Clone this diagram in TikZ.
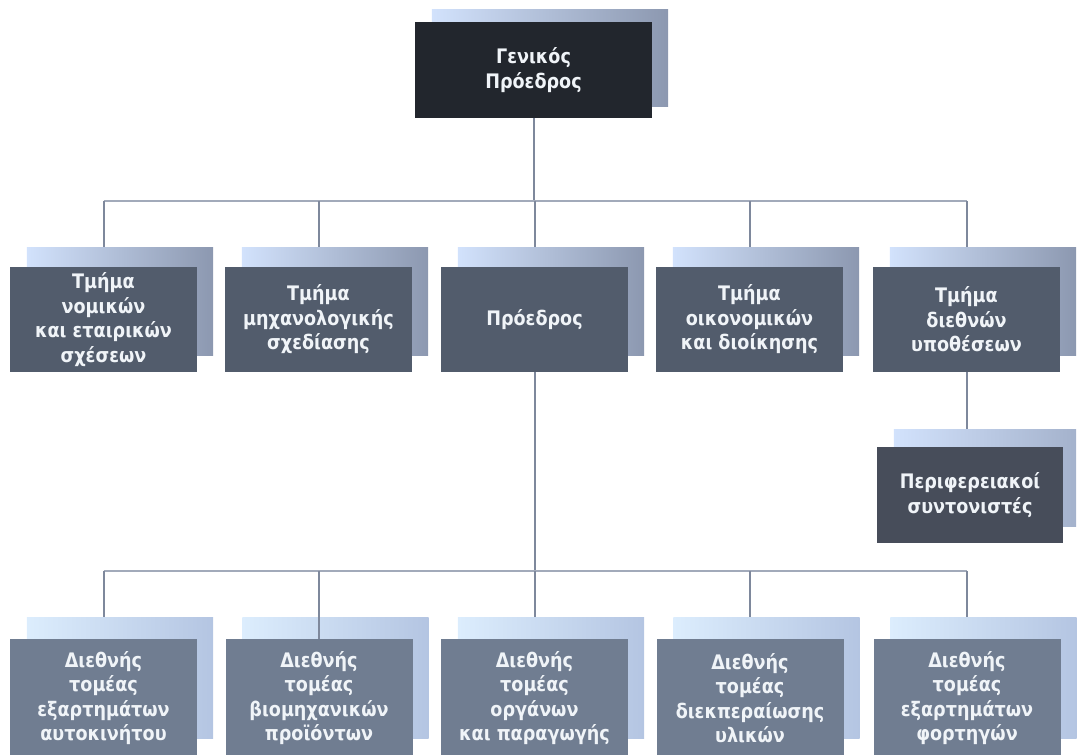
\documentclass[tikz,border=0pt]{standalone}
\usepackage{fontspec}
\setmainfont{DejaVu Sans}[FakeStretch=0.88]
\usetikzlibrary{calc}
\definecolor{topc}{HTML}{22262D}
\definecolor{rowc}{HTML}{525C6C}
\definecolor{perc}{HTML}{474D5A}
\definecolor{botc}{HTML}{707D91}
\definecolor{shL}{HTML}{D2E2FC}
\definecolor{shR}{HTML}{8C98B0}
\definecolor{shbL}{HTML}{DCEDFD}
\definecolor{shbR}{HTML}{B4C5E2}
\definecolor{shpR}{HTML}{A4B2CC}
\definecolor{hline}{HTML}{A2AABA}
\definecolor{vline}{HTML}{7E889C}
\definecolor{txt}{HTML}{F0F4F8}
\pgfdeclarelayer{lines}
\pgfdeclarelayer{shadows}
\pgfdeclarelayer{over}
\pgfsetlayers{lines,shadows,over,main}
\begin{document}
\begin{tikzpicture}[x=1pt,y=-1pt,
  box/.style={inner sep=0pt, align=center, text=txt,
    font=\bfseries\fontsize{20}{24.5}\selectfont},
  topbox/.style={box, fill=topc, minimum width=237pt, minimum height=96pt},
  rowbox/.style={box, fill=rowc, minimum width=187pt, minimum height=105pt},
  perbox/.style={box, fill=perc, minimum width=186pt, minimum height=96pt},
  botbox/.style={box, fill=botc, minimum width=187pt, minimum height=118pt},
  hl/.style={draw=hline, line width=2pt},
  vl/.style={draw=vline, line width=2pt}]
\useasboundingbox (0,0) rectangle (1077,755);
\clip (0,0) rectangle (1077,755);

\node[topbox] (top) at (533.5,70) {Γενικός\\Πρόεδρος};

\node[rowbox] (r1) at (103.5,319.5) {Τμήμα\\νομικών\\και εταιρικών\\σχέσεων};
\node[rowbox] (r2) at (318.5,319.5) {Τμήμα\\μηχανολογικής\\σχεδίασης};
\node[rowbox] (r3) at (534.5,319.5) {Πρόεδρος};
\node[rowbox] (r4) at (749.5,319.5) {Τμήμα\\οικονομικών\\και διοίκησης};
\node[rowbox] (r5) at (966.5,319.5) {Τμήμα\\διεθνών\\υποθέσεων};

\node[perbox] (pf) at (970,495) {Περιφερειακοί\\συντονιστές};

\node[botbox] (b1) at (103.5,698) {Διεθνής\\τομέας\\εξαρτημάτων\\αυτοκινήτου};
\node[botbox] (b2) at (319,698) {Διεθνής\\τομέας\\βιομηχανικών\\προϊόντων};
\node[botbox] (b3) at (534.5,698) {Διεθνής\\τομέας\\οργάνων\\και παραγωγής};
\node[botbox] (b4) at (750,698) {Διεθνής\\τομέας\\διεκπεραίωσης\\υλικών};
\node[botbox] (b5) at (967,698) {Διεθνής\\τομέας\\εξαρτημάτων\\φορτηγών};

\coordinate (bus1) at (533.5,201);
\coordinate (bus2) at (533.5,571);

\begin{pgfonlayer}{shadows}
  \shade[left color=shL, right color=shR]
    ($(top.south west)+(17,-12)$) rectangle ($(top.north east)+(16,-12)$);
  \foreach \n in {r1,r2,r3,r4,r5}{
    \shade[left color=shL, right color=shR]
      ($(\n.south west)+(17,-17)$) rectangle ($(\n.north east)+(16,-19)$);
  }
  \shade[left color=shL, right color=shpR]
    ($(pf.south west)+(17,-17)$) rectangle ($(pf.north east)+(13,-17)$);
  \foreach \n in {b1,b2,b3,b4,b5}{
    \shade[left color=shbL, right color=shbR]
      ($(\n.south west)+(17,-19)$) rectangle ($(\n.north east)+(16,-21)$);
  }
\end{pgfonlayer}

\begin{pgfonlayer}{lines}
  \draw[vl] (top.south) -- (top.south |- bus1);
  \draw[hl] (r1.north |- bus1) -- (r5.north |- bus1);
  \foreach \n in {r1,r2,r3,r4,r5}{
    \draw[vl] (\n.north |- bus1) -- (\n.north);
  }
  \draw[vl] (r3.south) -- (r3.south |- bus2);
  \draw[hl] (b1.north |- bus2) -- (b5.north |- bus2);
  \foreach \n in {b1,b3,b4,b5}{
    \draw[vl] (\n.north |- bus2) -- (\n.north);
  }
  \draw[vl] (r5.south) -- (r5.south |- pf.north);
\end{pgfonlayer}

\begin{pgfonlayer}{over}
  \draw[vl] (b2.north |- bus2) -- (b2.north);
\end{pgfonlayer}
\end{tikzpicture}
\end{document}
